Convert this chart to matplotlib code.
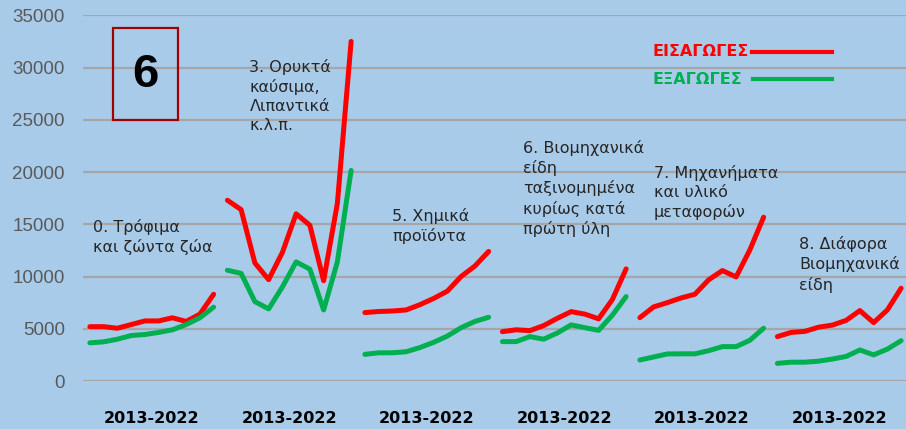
import numpy as np
import matplotlib
matplotlib.use("Agg")
import matplotlib.pyplot as plt
from matplotlib.patches import Rectangle
from matplotlib.lines import Line2D

# imports / exports per product group, 2013-2022 (million euro)
groups = ["0. Τρόφιμα\nκαι ζώντα ζώα",
          "3. Ορυκτά\nκαύσιμα,\nΛιπαντικά\nκ.λ.π.",
          "5. Χημικά\nπροϊόντα",
          "6. Βιομηχανικά\nείδη\nταξινομημένα\nκυρίως κατά\nπρώτη ύλη",
          "7. Μηχανήματα\nκαι υλικό\nμεταφορών",
          "8. Διάφορα\nΒιομηχανικά\nείδη"]
period = "2013-2022"

imports = [
    [5200, 5200, 5050, 5400, 5750, 5750, 6050, 5700, 6400, 8300],
    [17300, 16400, 11300, 9700, 12300, 16000, 14900, 9600, 17000, 32500],
    [6550, 6650, 6700, 6800, 7300, 7900, 8600, 10000, 11000, 12400],
    [4720, 4900, 4820, 5300, 6000, 6640, 6400, 5950, 7800, 10730],
    [6060, 7090, 7500, 7950, 8300, 9680, 10570, 9960, 12550, 15680],
    [4250, 4650, 4750, 5150, 5350, 5800, 6740, 5590, 6800, 8880],
]
exports = [
    [3650, 3750, 4000, 4350, 4450, 4650, 4900, 5400, 6050, 7070],
    [10600, 10300, 7600, 6900, 9000, 11400, 10700, 6800, 11400, 20150],
    [2550, 2700, 2700, 2800, 3200, 3700, 4300, 5100, 5700, 6100],
    [3770, 3770, 4250, 4000, 4600, 5370, 5100, 4850, 6300, 8080],
    [2010, 2300, 2590, 2600, 2600, 2900, 3290, 3290, 3900, 5050],
    [1690, 1800, 1800, 1900, 2100, 2350, 2970, 2500, 3050, 3860],
]

# label anchor (x in category slots, y in data units)
label_pos = [(0.2, 15550), (11.6, 30800), (22.0, 16550), (31.5, 23050), (41.0, 20650), (51.6, 13850)]

RED = "#ff0000"
GREEN = "#00b050"
BG = "#a9cbea"
TXT = "#262626"

fig = plt.figure(figsize=(9.06, 4.29), dpi=100, facecolor=BG)
ax = fig.add_axes([83 / 906, 48 / 429, 825 / 906, 365.7 / 429])
ax.set_facecolor(BG)

n = len(imports[0])
for g in range(len(groups)):
    x = np.arange(n) + g * n
    ax.plot(x, imports[g], color=RED, lw=3.6, solid_capstyle="round", solid_joinstyle="round", zorder=3)
    ax.plot(x, exports[g], color=GREEN, lw=3.6, solid_capstyle="round", solid_joinstyle="round", zorder=3)
    ax.text(x.mean(), -3600, period, ha="center", va="center", fontsize=11.5,
            fontweight="bold", color="black", family="DejaVu Sans")
    lx, ly = label_pos[g]
    ax.text(lx, ly, groups[g], ha="left", va="top", fontsize=11.5, color=TXT,
            family="DejaVu Sans", linespacing=1.32, zorder=4)

ax.set_xlim(-0.5, len(groups) * n - 0.5)
ax.set_ylim(0, 35000)
ax.set_yticks(np.arange(0, 35001, 5000))
ax.set_xticks([])
ax.tick_params(axis="y", length=0, pad=13, labelsize=13.5, labelcolor="#595959")
for lab in ax.get_yticklabels():
    lab.set_family("Liberation Sans")
ax.grid(axis="y", color="#a6a6a6", lw=1.6)
ax.set_axisbelow(True)
for s in ax.spines.values():
    s.set_visible(False)

# legend drawn by hand, as in the original
fig.text(653 / 906, 1 - 52 / 429, "ΕΙΣΑΓΩΓΕΣ", color=RED, fontsize=11.5, fontweight="bold",
         va="center", ha="left")
fig.text(653 / 906, 1 - 79 / 429, "ΕΞΑΓΩΓΕΣ", color=GREEN, fontsize=11.5, fontweight="bold",
         va="center", ha="left")
fig.add_artist(Line2D([752 / 906, 832 / 906], [1 - 52 / 429, 1 - 52 / 429], color=RED, lw=3))
fig.add_artist(Line2D([753 / 906, 832 / 906], [1 - 79 / 429, 1 - 79 / 429], color=GREEN, lw=3))

# boxed chart number
fig.add_artist(Rectangle((113 / 906, 1 - 120 / 429), 65 / 906, 92 / 429, transform=fig.transFigure,
                         fill=False, edgecolor="#a00000", lw=1.6))
fig.text(145.5 / 906, 1 - 75 / 429, "6", fontsize=34, fontweight="bold", ha="center", va="center",
         family="Liberation Sans")

fig.savefig("out.png", dpi=100, facecolor=BG)
